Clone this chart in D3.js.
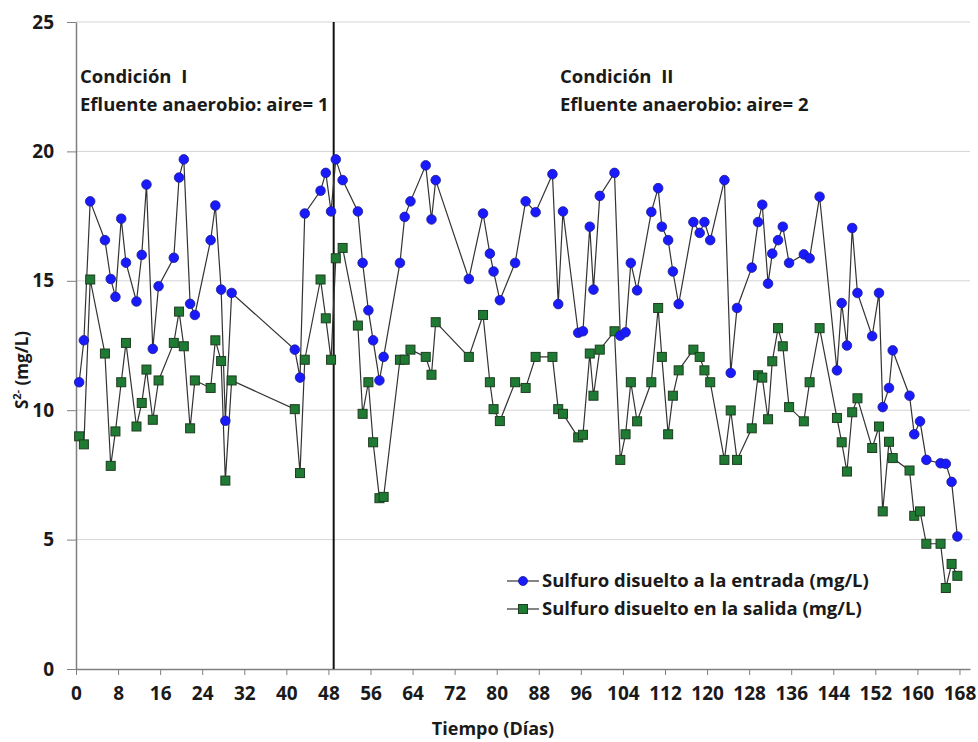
<!DOCTYPE html>
<html>
<head>
<meta charset="utf-8">
<script src="https://cdn.jsdelivr.net/npm/d3@7"></script>
<style>
  body { margin: 0; background: #fff; }
  text { font-family: "Open Sans", "Liberation Sans", sans-serif; font-weight: bold; fill: #1a1a1a; }
</style>
</head>
<body>
<svg id="chart" width="978" height="742"></svg>
<script>
// días de muestreo
const days = [0.6, 1.5, 2.7, 5.5, 6.6, 7.5, 8.6, 9.5, 11.5, 12.5, 13.4, 14.6, 15.7, 18.6, 19.6, 20.5,
  21.7, 22.6, 25.6, 26.5, 27.6, 28.4, 29.6, 41.6, 42.6, 43.5, 46.5, 47.5, 48.5, 49.4, 50.7,
  53.6, 54.5, 55.6, 56.5, 57.7, 58.5, 61.6, 62.5, 63.6, 66.5, 67.6, 68.4, 74.7, 77.4, 78.7,
  79.4, 80.6, 83.5, 85.5, 87.4, 90.6, 91.7, 92.6, 95.5, 96.4, 97.7, 98.4, 99.6, 102.4, 103.5,
  104.5, 105.5, 106.7, 109.4, 110.7, 111.4, 112.6, 113.5, 114.6, 117.4, 118.6, 119.5, 120.6,
  123.3, 124.5, 125.7, 128.5, 129.7, 130.5, 131.6, 132.4, 133.5, 134.4, 135.6, 138.4, 139.5,
  141.4, 144.7, 145.6, 146.6, 147.6, 148.6, 151.4, 152.7, 153.4, 154.6, 155.3, 158.5, 159.4,
  160.5, 161.7, 164.4, 165.4, 166.5, 167.6];

// sulfuro disuelto a la entrada (mg/L)
const entrada = [11.08, 12.7, 18.07, 16.57, 15.07, 14.38, 17.4, 15.7, 14.2, 16.0, 18.72, 12.37, 14.79,
  15.89, 18.99, 19.69, 14.11, 13.68, 16.57, 17.91, 14.66, 9.59, 14.53, 12.34, 11.26, 17.6, 18.48,
  19.17, 17.68, 19.69, 18.89, 17.68, 15.69, 13.86, 12.7, 11.15, 12.06, 15.69, 17.47, 18.07, 19.46,
  17.37, 18.89, 15.07, 17.6, 16.05, 15.36, 14.25, 15.69, 18.07, 17.65, 19.12, 14.1, 17.68, 12.99,
  13.05, 17.09, 14.66, 18.28, 19.17, 12.88, 13.01, 15.69, 14.63, 17.66, 18.58, 17.09, 16.57, 15.36,
  14.1, 17.27, 16.85, 17.27, 16.57, 18.89, 11.44, 13.95, 15.51, 17.27, 17.94, 14.89, 16.05, 16.57,
  17.09, 15.69, 16.02, 15.87, 18.25, 11.54, 14.14, 12.5, 17.04, 14.53, 12.86, 14.53, 10.12, 10.86,
  12.31, 10.56, 9.07, 9.57, 8.08, 7.95, 7.93, 7.23, 5.12];

// sulfuro disuelto en la salida (mg/L)
const salida = [8.99, 8.68, 15.05, 12.19, 7.85, 9.18, 11.08, 12.6, 9.37, 10.28, 11.57, 9.63, 11.15,
  12.6, 13.81, 12.47, 9.3, 11.15, 10.86, 12.7, 11.9, 7.28, 11.15, 10.04, 7.57, 11.95, 15.05, 13.55,
  11.95, 15.87, 16.27, 13.27, 9.86, 11.08, 8.76, 6.6, 6.65, 11.95, 11.95, 12.34, 12.06, 11.37, 13.4,
  12.06, 13.68, 11.08, 10.04, 9.58, 11.08, 10.86, 12.06, 12.06, 10.04, 9.86, 8.95, 9.05, 12.19, 10.56,
  12.34, 13.05, 8.08, 9.07, 11.08, 9.57, 11.08, 13.95, 12.06, 9.07, 10.56, 11.54, 12.34, 12.06, 11.54,
  11.08, 8.08, 9.99, 8.08, 9.3, 11.35, 11.26, 9.65, 11.89, 13.17, 12.47, 10.12, 9.57, 11.08, 13.17,
  9.7, 8.76, 7.63, 9.92, 10.46, 8.54, 9.37, 6.09, 8.78, 8.15, 7.67, 5.92, 6.09, 4.84, 4.84, 3.13,
  4.06, 3.6];

const xTicks = [0, 8, 16, 24, 32, 40, 48, 56, 64, 72, 80, 88, 96, 104, 112, 120, 128, 136, 144, 152, 160, 168];
const yTicks = [0, 5, 10, 15, 20, 25];
const cambioCondicion = 49;
const nombres = ["Sulfuro disuelto a la entrada (mg/L)", "Sulfuro disuelto en la salida (mg/L)"];

let svg = d3.select("#chart");

let x = d3.scaleLinear().domain([0, 170]).range([76, 970]);
let y = d3.scaleLinear().domain([0, 25]).range([669, 22]);

// líneas de cuadrícula
svg.append("g")
  .selectAll("line")
  .data(yTicks.slice(1))
  .enter()
  .append("line")
  .attr("x1", x(0))
  .attr("x2", x(170))
  .attr("y1", d => y(d))
  .attr("y2", d => y(d))
  .attr("stroke", "#d4d4d4")
  .attr("stroke-width", 1);

// eje X
let xAxis = svg.append("g")
  .attr("transform", "translate(0," + y(0) + ")")
  .call(d3.axisBottom(x).tickValues(xTicks).tickSize(6).tickSizeOuter(0).tickPadding(12));
xAxis.select(".domain").attr("stroke", "#7f7f7f").attr("stroke-width", 1.5);
xAxis.selectAll(".tick line").attr("stroke", "#7f7f7f");
xAxis.selectAll("text").style("font-size", "19px").attr("fill", "#1a1a1a");

// eje Y
let yAxis = svg.append("g")
  .attr("transform", "translate(" + x(0) + ",0)")
  .call(d3.axisLeft(y).tickValues(yTicks).tickSize(9).tickSizeOuter(0).tickPadding(13));
yAxis.select(".domain").attr("stroke", "#7f7f7f").attr("stroke-width", 1.5);
yAxis.selectAll(".tick line").attr("stroke", "#7f7f7f");
yAxis.selectAll("text").style("font-size", "19px").attr("fill", "#1a1a1a");

// línea vertical de cambio de condición
svg.append("line")
  .attr("x1", x(cambioCondicion))
  .attr("x2", x(cambioCondicion))
  .attr("y1", y(25))
  .attr("y2", y(0))
  .attr("stroke", "#111")
  .attr("stroke-width", 2);

let line = d3.line()
  .x((d, i) => x(days[i]))
  .y(d => y(d));

// series
svg.append("path")
  .datum(salida)
  .attr("fill", "none")
  .attr("stroke", "#333")
  .attr("stroke-width", 1.2)
  .attr("d", line);

svg.append("path")
  .datum(entrada)
  .attr("fill", "none")
  .attr("stroke", "#333")
  .attr("stroke-width", 1.2)
  .attr("d", line);

svg.selectAll(".sq")
  .data(salida)
  .enter()
  .append("rect")
  .attr("class", "sq")
  .attr("x", (d, i) => x(days[i]) - 4.5)
  .attr("y", d => y(d) - 4.5)
  .attr("width", 9)
  .attr("height", 9)
  .attr("fill", "#1f7a33")
  .attr("stroke", "#1c3d1f")
  .attr("stroke-width", 1);

svg.selectAll(".dot")
  .data(entrada)
  .enter()
  .append("circle")
  .attr("class", "dot")
  .attr("cx", (d, i) => x(days[i]))
  .attr("cy", d => y(d))
  .attr("r", 4.8)
  .attr("fill", "#1a1aff")
  .attr("stroke", "#1a1a8c")
  .attr("stroke-width", 0.8);

// anotaciones de condición
let notas = [
  { x: 80, lines: ["Condición  I", "Efluente anaerobio: aire= 1"] },
  { x: 560, lines: ["Condición  II", "Efluente anaerobio: aire= 2"] }
];
notas.forEach(n => {
  n.lines.forEach((t, k) => {
    svg.append("text")
      .attr("x", n.x)
      .attr("y", 83 + k * 28)
      .style("font-size", "18.5px")
      .style("white-space", "pre")
      .text(t);
  });
});

// leyenda
let leyenda = svg.append("g");
nombres.forEach((nombre, k) => {
  let ly = 581 + k * 28;
  leyenda.append("line")
    .attr("x1", 507).attr("x2", 539)
    .attr("y1", ly).attr("y2", ly)
    .attr("stroke", "#333").attr("stroke-width", 1.2);
  if (k === 0) {
    leyenda.append("circle").attr("cx", 523).attr("cy", ly).attr("r", 4.5)
      .attr("fill", "#1a1aff").attr("stroke", "#1a1a8c").attr("stroke-width", 0.8);
  } else {
    leyenda.append("rect").attr("x", 518.5).attr("y", ly - 4.5).attr("width", 9).attr("height", 9)
      .attr("fill", "#1f7a33").attr("stroke", "#1c3d1f");
  }
  leyenda.append("text")
    .attr("x", 542)
    .attr("y", ly)
    .attr("dy", "0.35em")
    .style("font-size", "18.5px")
    .text(nombre);
});

// títulos de ejes
svg.append("text")
  .attr("x", 493)
  .attr("y", 735)
  .attr("text-anchor", "middle")
  .style("font-size", "18px")
  .text("Tiempo (Días)");

let yt = svg.append("text")
  .attr("transform", "translate(28,370) rotate(-90)")
  .attr("text-anchor", "middle")
  .style("font-size", "17px");
yt.append("tspan").text("S");
yt.append("tspan").attr("dy", -7).style("font-size", "11px").text("2-");
yt.append("tspan").attr("dy", 7).text(" (mg/L)");
</script>
</body>
</html>
